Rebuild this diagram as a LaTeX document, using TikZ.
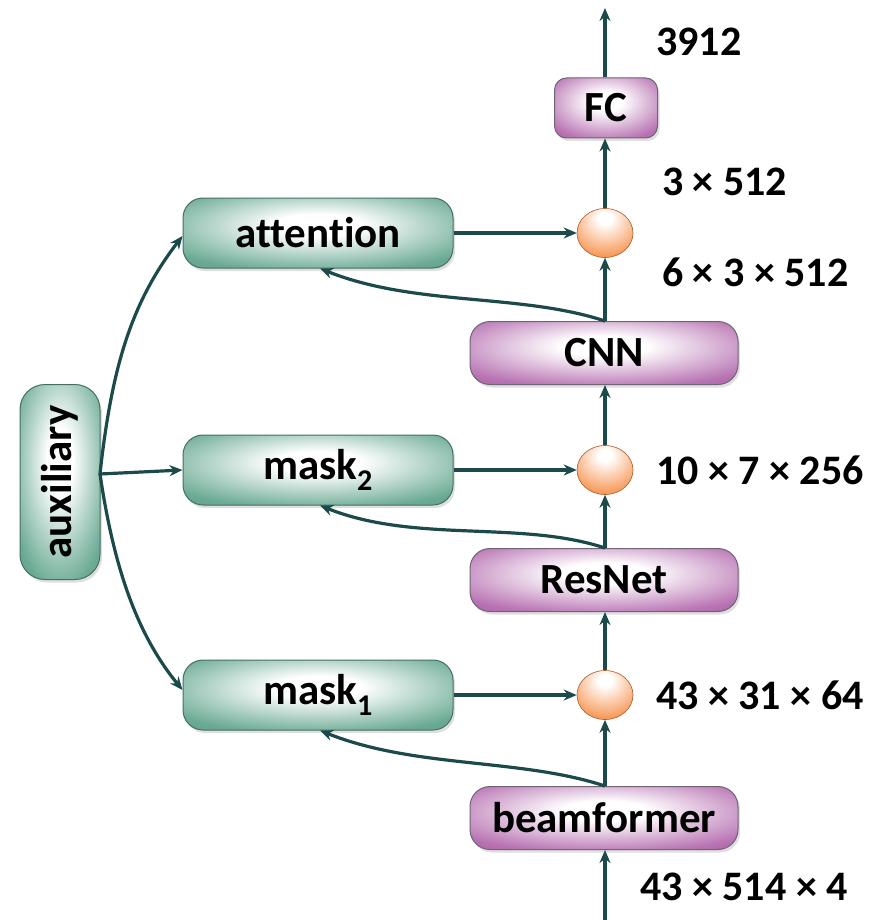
\documentclass[tikz,border=0pt]{standalone}
\usepackage{fontspec}
\setmainfont{Carlito}[Ligatures=NoCommon]
\usetikzlibrary{arrows.meta,shadows,shapes.geometric}

\definecolor{linecol}{RGB}{28,74,74}
\definecolor{greenedge}{RGB}{70,110,100}
\definecolor{purpleedge}{RGB}{110,100,115}
\definecolor{orangeball}{RGB}{240,130,60}

% soft highlight near the top centre, colour towards the rim
\pgfdeclareradialshading{greenglow}{\pgfpoint{0bp}{6bp}}{%
  rgb(0bp)=(1,1,1); rgb(8bp)=(1,1,1); rgb(32bp)=(0.42,0.67,0.58);
  rgb(48bp)=(0.32,0.58,0.49); rgb(100bp)=(0.32,0.58,0.49)}
\pgfdeclareradialshading{purpleglow}{\pgfpoint{0bp}{6bp}}{%
  rgb(0bp)=(1,1,1); rgb(8bp)=(1,1,1); rgb(32bp)=(0.72,0.45,0.70);
  rgb(48bp)=(0.62,0.32,0.60); rgb(100bp)=(0.62,0.32,0.60)}
\pgfdeclareradialshading{orangeglow}{\pgfpoint{0bp}{16bp}}{%
  rgb(0bp)=(1,1,1); rgb(6bp)=(1,1,1); rgb(34bp)=(0.97,0.60,0.35);
  rgb(48bp)=(0.94,0.48,0.18); rgb(100bp)=(0.94,0.48,0.18)}

\tikzset{
  base/.style={rounded corners=20pt, inner sep=0pt, line width=1pt,
    font=\fontsize{43}{50}\selectfont\bfseries,
    drop shadow={opacity=0.25, shadow xshift=2pt, shadow yshift=-3pt}},
  greenbox/.style={base, draw=greenedge, shading=greenglow,
    minimum width=270pt, minimum height=70pt},
  purplebox/.style={base, draw=purpleedge, shading=purpleglow,
    minimum width=268pt, minimum height=63pt},
  ball/.style={ellipse, draw=orangeball!70!black, line width=0.6pt,
    shading=orangeglow,
    minimum width=56pt, minimum height=49pt, inner sep=0pt},
  dimlabel/.style={anchor=west, inner sep=0pt,
    font=\fontsize{42}{50}\selectfont\bfseries},
  arr/.style={draw=linecol, line width=3.2pt,
    -{Stealth[length=13pt,width=11pt]}},
}

\begin{document}
\begin{tikzpicture}[x=1pt,y=-1pt]
  \useasboundingbox (0,0) rectangle (885,920);

  % left column: auxiliary input and its three branches
  \node[greenbox, minimum width=80pt, minimum height=195pt, rounded corners=25pt]
    (aux) at (60,482) {};
  \node[rotate=90, font=\fontsize{43}{50}\selectfont\bfseries] (auxtext) at (60,482) {auxiliary};
  \node[greenbox] (att) at (318,233) {attention};
  \node[greenbox] (m2) at (318,470) {mask\textsubscript{2}};
  \node[greenbox] (m1) at (318,695) {mask\textsubscript{1}};

  % main processing column
  \node[purplebox, minimum width=103pt, minimum height=60pt, rounded corners=12pt]
    (fc) at (606,108) {FC};
  \node[ball] (c1) at (605,233) {};
  \node[purplebox] (cnn) at (604,353) {CNN};
  \node[ball] (c2) at (605,470) {};
  \node[purplebox] (res) at (604,580) {ResNet};
  \node[ball] (c3) at (605,695) {};
  \node[purplebox] (beam) at (604,818) {beamformer};

  \coordinate (in) at (605,920);
  \coordinate (out) at (605,8);
  \coordinate (hub) at (100,474);

  % vertical data flow
  \draw[arr] (in) -- (beam.south -| in);
  \draw[arr] (beam.north -| in) -- (c3.south);
  \draw[arr] (c3.north) -- (res.south -| in);
  \draw[arr] (res.north -| in) -- (c2.south);
  \draw[arr] (c2.north) -- (cnn.south -| in);
  \draw[arr] (cnn.north -| in) -- (c1.south);
  \draw[arr] (c1.north) -- (fc.south -| in);
  \draw[arr] (fc.north -| in) -- (out);

  % masks applied at the junctions
  \draw[arr] (att.east) -- (c1.west);
  \draw[arr] (m2.east) -- (c2.west);
  \draw[arr] (m1.east) -- (c3.west);

  % feedback into the attention / mask branches
  \draw[arr] (cnn.north -| in) .. controls +(-85,-28) and +(95,38) .. ([xshift=2pt]att.south);
  \draw[arr] (res.north -| in) .. controls +(-85,-28) and +(95,38) .. ([xshift=2pt]m2.south);
  \draw[arr] (beam.north -| in) .. controls +(-85,-28) and +(95,38) .. ([xshift=2pt]m1.south);

  % auxiliary fan-out
  \draw[arr] (hub) .. controls +(12,-110) and +(-50,65) .. ([yshift=-3pt]att.west);
  \draw[arr] (hub) -- (m2.west);
  \draw[arr] (hub) .. controls +(14,95) and +(-45,-55) .. ([yshift=5pt]m1.west);

  % tensor sizes
  \node[dimlabel] (l0) at (656,42) {3912};
  \node[dimlabel] (l1) at (662,182) {3 × 512};
  \node[dimlabel] (l2) at (662,272) {6 × 3 × 512};
  \node[dimlabel] (l3) at (656,470) {10 × 7 × 256};
  \node[dimlabel] (l4) at (656,695) {43 × 31 × 64};
  \node[dimlabel] (l5) at (640,887) {43 × 514 × 4};
\end{tikzpicture}
\end{document}
